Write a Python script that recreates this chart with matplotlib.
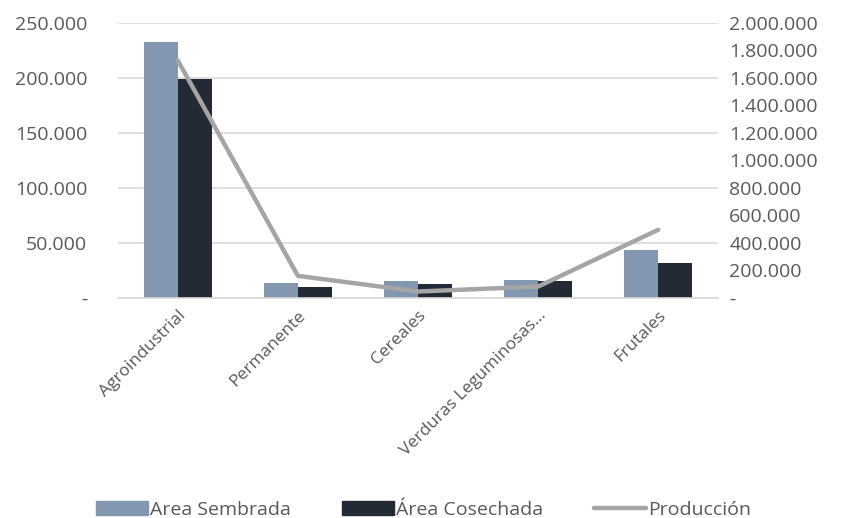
import numpy as np
import matplotlib.pyplot as plt
from matplotlib.ticker import FuncFormatter
from matplotlib.lines import Line2D
from matplotlib.patches import Patch

plt.rcParams['font.family'] = ['Open Sans', 'DejaVu Sans']

categorias = ["Agroindustrial", "Permanente", "Cereales", "Verduras Leguminosas...", "Frutales"]
area_sembrada = [232500, 13300, 15500, 16400, 43600]
area_cosechada = [198800, 10300, 13000, 15200, 31500]
produccion = [1726000, 160000, 46000, 82000, 495000]

c_sem = '#8497B0'
c_cos = '#222A35'
c_prod = '#A5A5A5'
c_txt = '#595959'


def miles(v, pos):
    if v == 0:
        return '-'
    return '{:,.0f}'.format(v).replace(',', '.')


fig = plt.figure(figsize=(8.47, 5.18), dpi=100)
ax = fig.add_axes([0.139, 0.425, 0.709, 0.531])
ax2 = ax.twinx()

x = np.arange(len(categorias))
w = 0.285
ax.bar(x - w / 2, area_sembrada, w, color=c_sem, zorder=2)
ax.bar(x + w / 2, area_cosechada, w, color=c_cos, zorder=2)
ax2.plot(x, produccion, color=c_prod, linewidth=3.2, solid_capstyle='round', zorder=3)

ax.set_xlim(-0.5, len(categorias) - 0.5)
ax.set_ylim(0, 250000)
ax.set_yticks(np.arange(0, 250001, 50000))
ax2.set_ylim(0, 2000000)
ax2.set_yticks(np.arange(0, 2000001, 200000))
ax.yaxis.set_major_formatter(FuncFormatter(miles))
ax2.yaxis.set_major_formatter(FuncFormatter(miles))

ax.grid(axis='y', color='#D9D9D9', linewidth=1.2, zorder=0)
ax.set_axisbelow(True)
for a in (ax, ax2):
    for s in a.spines.values():
        s.set_visible(False)
    a.tick_params(length=0, labelsize=14, labelcolor=c_txt)
ax.spines['bottom'].set_visible(True)
ax.spines['bottom'].set_color('#D9D9D9')
ax.spines['bottom'].set_linewidth(1.2)

ax.set_xticks(x)
ax.set_xticklabels(categorias, rotation=45, ha='right', rotation_mode='anchor')
ax.tick_params(axis='x', pad=7, labelsize=12.5)
ax.tick_params(axis='y', pad=22)
ax2.tick_params(axis='y', pad=8)

handles = [Patch(color=c_sem), Patch(color=c_cos),
           Line2D([0], [0], color=c_prod, linewidth=3.2, solid_capstyle='round')]
etiquetas = ['Area Sembrada', 'Área Cosechada', 'Producción']
fig.legend(handles, etiquetas, loc='lower center', bbox_to_anchor=(0.5, -0.035), ncol=3,
           frameon=False, fontsize=14, labelcolor=c_txt, handlelength=2.7,
           handleheight=0.75, handletextpad=0.1, columnspacing=2.6)

fig.savefig('out.png', dpi=100)
